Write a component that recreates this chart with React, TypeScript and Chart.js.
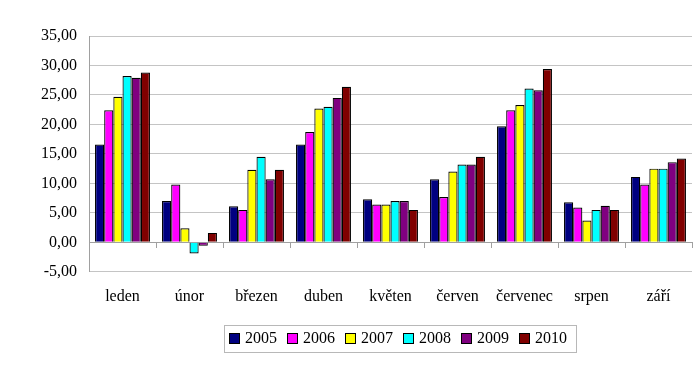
import React, { useEffect, useRef } from "react";
import { Chart, registerables } from "chart.js";

Chart.register(...registerables);

const months = ["leden", "únor", "březen", "duben", "květen", "červen", "červenec", "srpen", "září"];
const years = ["2005", "2006", "2007", "2008", "2009", "2010"];
const colors = ["#000080", "#FF00FF", "#FFFF00", "#00FFFF", "#800080", "#800000"];

const s2005 = [16.6, 7.0, 6.1, 16.6, 7.3, 10.7, 19.7, 6.8, 11.1];
const s2006 = [22.4, 9.8, 5.5, 18.7, 6.4, 7.7, 22.4, 5.9, 9.8];
const s2007 = [24.7, 2.4, 12.3, 22.7, 6.4, 12.0, 23.3, 3.7, 12.5];
const s2008 = [28.2, -1.9, 14.5, 23.0, 7.0, 13.2, 26.1, 5.5, 12.5];
const s2009 = [27.9, -0.6, 10.7, 24.5, 7.0, 13.2, 25.8, 6.2, 13.6];
const s2010 = [28.8, 1.6, 12.3, 26.4, 5.5, 14.5, 29.4, 5.5, 14.2];

const series = [s2005, s2006, s2007, s2008, s2009, s2010];

const yMin = -5;
const yMax = 35;
const yStep = 5;

const FONT = '"Liberation Serif", "Times New Roman", serif';

const boxLegend = {
  id: "boxLegend",
  afterDraw(chart: any) {
    const ctx = chart.ctx;
    const area = chart.chartArea;
    ctx.save();
    ctx.font = `16px ${FONT}`;
    const box = 11;
    const gap = 5;
    const pad = 10;
    const items = chart.data.datasets.map((ds: any) => ({
      text: ds.label,
      color: ds.backgroundColor,
      w: ctx.measureText(ds.label).width,
    }));
    let total = 0;
    items.forEach((it: any, i: number) => {
      total += box + gap + it.w + (i < items.length - 1 ? pad : 0);
    });
    const cx = (area.left + area.right) / 2 + 7;
    const cy = chart.height - 30;
    let x = Math.round(cx - total / 2);
    const frameL = x - 5;
    const frameR = x + total + 9;
    ctx.strokeStyle = "#b8b8b8";
    ctx.lineWidth = 1;
    ctx.strokeRect(frameL + 0.5, Math.round(cy - 13) + 0.5, frameR - frameL, 27);
    ctx.textBaseline = "middle";
    ctx.textAlign = "left";
    items.forEach((it: any) => {
      const by = Math.round(cy - box / 2);
      ctx.fillStyle = it.color;
      ctx.fillRect(x, by, box, box);
      ctx.strokeStyle = "#000";
      ctx.strokeRect(x + 0.5, by + 0.5, box - 1, box - 1);
      ctx.fillStyle = "#000";
      ctx.fillText(it.text, x + box + gap, cy + 1);
      x += box + gap + it.w + pad;
    });
    ctx.restore();
  },
};

export default function App() {
  const ref = useRef<HTMLCanvasElement | null>(null);
  useEffect(() => {
    if (!ref.current) return;
    const chart = new Chart(ref.current, {
      type: "bar",
      data: {
        labels: months,
        datasets: years.map((y, i) => ({
          label: y,
          data: series[i],
          backgroundColor: colors[i],
          borderColor: "#000000",
          borderWidth: 1.2,
          categoryPercentage: 0.82,
          barPercentage: 1.0,
        })),
      },
      options: {
        animation: false,
        responsive: true,
        maintainAspectRatio: false,
        layout: { padding: { left: 29, right: 7, top: 36, bottom: 47 } },
        plugins: {
          legend: { display: false },
          tooltip: { enabled: false },
        },
        scales: {
          x: {
            type: "category",
            position: "bottom",
            grid: { display: false, drawTicks: false },
            border: { display: false },
            ticks: {
              color: "#000",
              font: { family: FONT, size: 16 },
              padding: 15,
              maxRotation: 0,
              autoSkip: false,
            },
          },
          x2: {
            type: "category",
            axis: "x",
            labels: months,
            position: { y: 0 },
            offset: true,
            grid: {
              display: true,
              drawOnChartArea: false,
              drawTicks: true,
              tickLength: 5,
              color: "#a0a0a0",
              offset: true,
            },
            border: { display: true, color: "#a0a0a0", width: 1 },
            ticks: { display: false },
          },
          y: {
            min: yMin,
            max: yMax,
            grid: { color: "#c4c4c4", drawTicks: false },
            border: { display: true, color: "#a0a0a0" },
            ticks: {
              stepSize: yStep,
              color: "#000",
              padding: 12,
              font: { family: FONT, size: 16 },
              callback: (v: any) => Number(v).toFixed(2).replace(".", ","),
            },
          },
        },
      },
      plugins: [boxLegend],
    } as any);
    return () => chart.destroy();
  }, []);
  return (
    <div style={{ position: "fixed", left: 0, top: 0, width: 699, height: 368, background: "#fff" }}>
      <canvas ref={ref} />
    </div>
  );
}
